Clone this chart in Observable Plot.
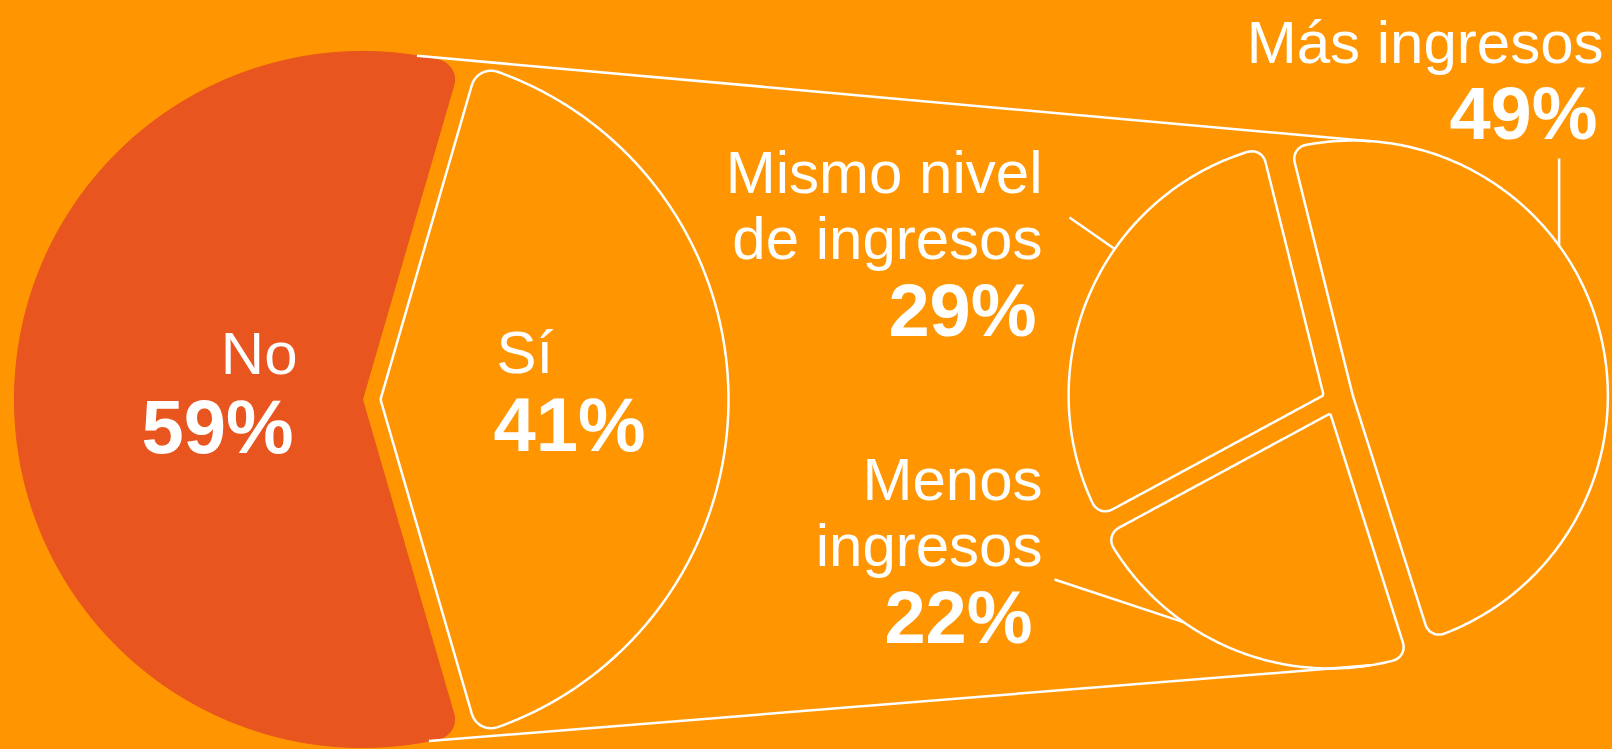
<!DOCTYPE html>
<html>
<head>
<meta charset="utf-8">
<script src="https://cdn.jsdelivr.net/npm/d3@7"></script>
<script src="https://cdn.jsdelivr.net/npm/@observablehq/plot@0.6"></script>
<style>
  html, body { margin: 0; padding: 0; background: #FF9500; overflow: hidden; }
  #chart svg { display: block; }
</style>
</head>
<body>
<div id="chart"></div>
<script>
// ---------- data ----------
const outerCategories = ["No", "Sí"];
const outerValues = [59, 41];
const outerNames = ["No", "Sí"];

const innerCategories = ["Más ingresos", "Menos ingresos", "Mismo nivel de ingresos"];
const innerValues = [49, 22, 29];
const innerNames = ["Más ingresos", "Menos\ningresos", "Mismo nivel\nde ingresos"];

// ---------- style / layout ----------
const W = 1612, H = 749;
const BG = "#FF9500", RED = "#E8551E", WHITE = "#FFFFFF";
const FONT = "'Liberation Sans', Arial, Helvetica, sans-serif";
const deg = Math.PI / 180;

const outerPie = {cx: 362, cy: 399, r: 348, alignKey: "Sí", alignDeg: 0, corner: 20,
  explode: {"No": 0, "Sí": 18}, fill: {"No": RED, "Sí": "none"}};
const innerPie = {cx: 1335, cy: 400, r: 255, alignKey: "Más ingresos", alignDeg: -15.8, corner: 14,
  explode: {"Más ingresos": 18, "Menos ingresos": 14, "Mismo nivel de ingresos": 13}};

// label layout (anchor x, baseline y)
const outerLabelPos = {
  "No": {name: [297, 373, "end"], pct: [293, 452]},
  "Sí": {name: [496, 372, "start"], pct: [493, 450]}
};
const innerLabelPos = {
  "Más ingresos": {name: [1603, 62], pct: [1597, 138]},
  "Mismo nivel de ingresos": {name: [1042, 258], pct: [1036, 335]},
  "Menos ingresos": {name: [1042, 565], pct: [1032, 642]}
};
// leader lines: angle on slice arc, and label-side end
const leaders = [
  {key: "Más ingresos", angle: -36, end: "vertical", toY: 158},
  {key: "Mismo nivel de ingresos", angle: 215, toX: 1069, toY: 217},
  {key: "Menos ingresos", angle: 125, toX: 1054, toY: 579}
];
// connectors between the two pies
const connectors = [
  {fromKey: "No", fromAngle: -81, toKey: "Más ingresos", toAngle: -86},
  {fromKey: "No", fromAngle: 79, toKey: "Menos ingresos", toAngle: 81}
];

// ---------- geometry from data ----------
function layoutPie(cats, vals, cfg) {
  const total = d3.sum(vals);
  let cum = 0;
  const raw = cats.map((c, i) => {
    const a0 = cum / total * 360; cum += vals[i];
    const a1 = cum / total * 360;
    return {key: c, value: vals[i], a0, a1};
  });
  const al = raw.find(d => d.key === cfg.alignKey);
  const rot = cfg.alignDeg - (al.a0 + al.a1) / 2;
  return raw.map(d => {
    const a0 = d.a0 + rot, a1 = d.a1 + rot, mid = (a0 + a1) / 2;
    const e = cfg.explode[d.key] || 0;
    return {...d, a0, a1, mid, corner: cfg.corner,
      cx: cfg.cx + e * Math.cos(mid * deg),
      cy: cfg.cy + e * Math.sin(mid * deg), r: cfg.r};
  });
}

const tmpSvg = d3.select("body").append("svg")
  .attr("width", 0).attr("height", 0).style("position", "absolute");
function slicePoints(s) {
  const d = d3.arc().innerRadius(0).outerRadius(s.r).cornerRadius(s.corner)
    ({startAngle: (s.a0 + 90) * deg, endAngle: (s.a1 + 90) * deg});
  const path = tmpSvg.append("path").attr("d", d).node();
  const L = path.getTotalLength();
  const n = Math.ceil(L / 3);
  const pts = d3.range(n).map(i => {
    const q = path.getPointAtLength(i * L / n);
    return {key: s.key, x: s.cx + q.x, y: s.cy + q.y};
  });
  path.remove();
  return pts;
}

const outerSlices = layoutPie(outerCategories, outerValues, outerPie);
const innerSlices = layoutPie(innerCategories, innerValues, innerPie);
const byKey = Object.fromEntries([...outerSlices, ...innerSlices].map(s => [s.key, s]));
const onArc = (s, a) => [s.cx + s.r * Math.cos(a * deg), s.cy + s.r * Math.sin(a * deg)];

const redPts = outerSlices.filter(s => outerPie.fill[s.key] !== "none").flatMap(slicePoints);
const outlinePts = [
  ...outerSlices.filter(s => outerPie.fill[s.key] === "none").flatMap(slicePoints),
  ...innerSlices.flatMap(slicePoints)
];
tmpSvg.remove();

const connectorLinks = connectors.map(c => {
  const [x1, y1] = onArc(byKey[c.fromKey], c.fromAngle);
  const [x2, y2] = onArc(byKey[c.toKey], c.toAngle);
  return {x1, y1, x2, y2};
});
const leaderLinks = leaders.map(l => {
  const [x1, y1] = onArc(byKey[l.key], l.angle);
  return l.end === "vertical" ? {x1, y1, x2: x1, y2: l.toY} : {x1, y1, x2: l.toX, y2: l.toY};
});

const outerNameText = outerSlices.map((s, i) => ({
  text: outerNames[i], x: outerLabelPos[s.key].name[0], y: outerLabelPos[s.key].name[1], anchor: outerLabelPos[s.key].name[2]}));
const outerPctText = outerSlices.map(s => ({
  text: s.value + "%", x: outerLabelPos[s.key].pct[0], y: outerLabelPos[s.key].pct[1], anchor: outerLabelPos[s.key].name[2]}));
const innerNameText = innerSlices.map((s, i) => ({
  text: innerNames[i], x: innerLabelPos[s.key].name[0], y: innerLabelPos[s.key].name[1]}));
const innerPctText = innerSlices.map(s => ({
  text: s.value + "%", x: innerLabelPos[s.key].pct[0], y: innerLabelPos[s.key].pct[1]}));

const chart = Plot.plot({
  width: W, height: H, margin: 0,
  x: {domain: [0, W], range: [0, W], axis: null},
  y: {domain: [0, H], range: [0, H], axis: null},
  style: {background: BG, fontFamily: FONT},
  marks: [
    Plot.line(redPts, {x: "x", y: "y", z: "key", curve: "linear-closed", fill: RED, stroke: RED, strokeWidth: 1}),
    Plot.link(connectorLinks, {x1: "x1", y1: "y1", x2: "x2", y2: "y2", stroke: WHITE, strokeWidth: 2.5}),
    Plot.line(outlinePts, {x: "x", y: "y", z: "key", curve: "linear-closed", fill: "none", stroke: WHITE, strokeWidth: 2.5, strokeLinejoin: "round"}),
    Plot.link(leaderLinks, {x1: "x1", y1: "y1", x2: "x2", y2: "y2", stroke: WHITE, strokeWidth: 2.5}),
    Plot.text(outerNameText.filter(d => d.anchor === "end"), {x: "x", y: "y", text: "text", textAnchor: "end", lineAnchor: "bottom", fill: WHITE, fontSize: 60, fontFamily: FONT}),
    Plot.text(outerNameText.filter(d => d.anchor === "start"), {x: "x", y: "y", text: "text", textAnchor: "start", lineAnchor: "bottom", fill: WHITE, fontSize: 60, fontFamily: FONT}),
    Plot.text(outerPctText.filter(d => d.anchor === "end"), {x: "x", y: "y", text: "text", textAnchor: "end", lineAnchor: "bottom", fill: WHITE, fontSize: 76, fontWeight: "bold", fontFamily: FONT}),
    Plot.text(outerPctText.filter(d => d.anchor === "start"), {x: "x", y: "y", text: "text", textAnchor: "start", lineAnchor: "bottom", fill: WHITE, fontSize: 76, fontWeight: "bold", fontFamily: FONT}),
    Plot.text(innerNameText, {x: "x", y: "y", text: "text", textAnchor: "end", lineAnchor: "bottom", lineHeight: 1.1, fill: WHITE, fontSize: 60, fontFamily: FONT}),
    Plot.text(innerPctText, {x: "x", y: "y", text: "text", textAnchor: "end", lineAnchor: "bottom", fill: WHITE, fontSize: 74, fontWeight: "bold", fontFamily: FONT})
  ]
});
document.getElementById("chart").appendChild(chart);
</script>
</body>
</html>
